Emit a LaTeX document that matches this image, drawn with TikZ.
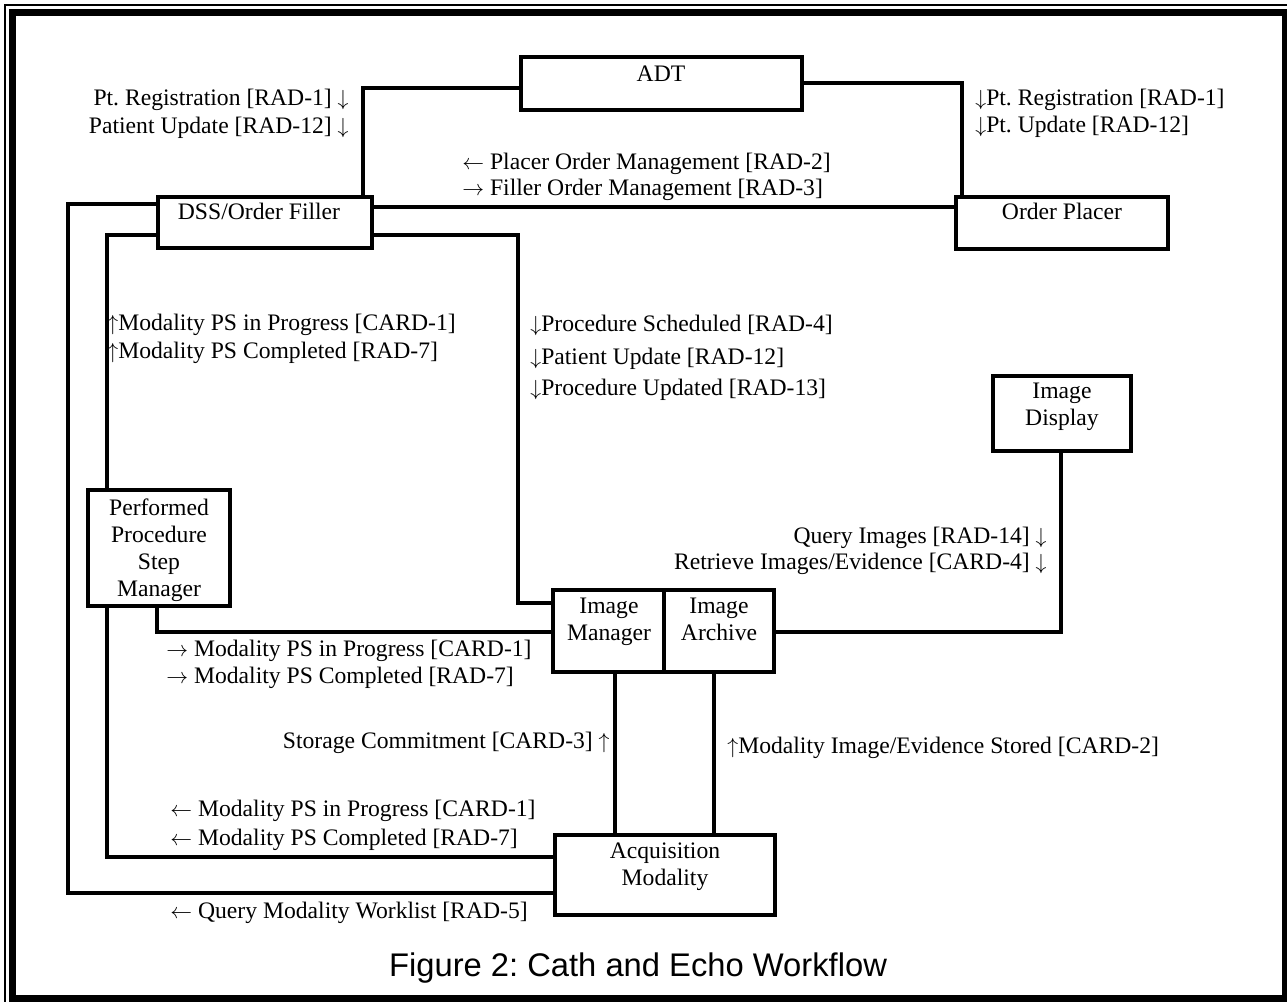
\documentclass[tikz,border=0pt]{standalone}
\usepackage{fontspec}
\setmainfont{Liberation Serif}
\newfontfamily\capfont{Liberation Sans}
\usetikzlibrary{fit}
\frenchspacing
\tikzset{
  x=0.55pt, y=-0.55pt,
  box/.style={draw, line width=2.2pt, inner sep=0pt, fill=none},
  conn/.style={line width=2.1pt},
  lbl/.style={inner sep=0pt, text height=9pt, text depth=2.7pt, font=\fontsize{13pt}{15pt}\selectfont},
  btxt/.style={inner sep=0pt, align=center, font=\fontsize{13pt}{14.9pt}\selectfont},
}
\begin{document}
\begin{tikzpicture}
\useasboundingbox (0,0) rectangle (1287,1001);
% frame
\draw[line width=1.1pt] (5,5) rectangle (1300,1010);
\draw[line width=3.8pt] (12.5,12.5) rectangle (1285,998.5);

% boxes
\node[box, fit={(521,57)(802,110)}] (adt) {};
\node[box, fit={(158,197)(372,248)}] (dss) {};
\node[box, fit={(956,197)(1168,249)}] (op) {};
\node[box, fit={(993,376)(1131,451)}] (idisp) {};
\node[box, fit={(88,490)(230,606)}] (ppsm) {};
\node[box, fit={(553,590)(664,672)}] (im) {};
\node[box, fit={(664,590)(774,672)}] (ia) {};
\node[box, fit={(555,835)(775,915)}] (acq) {};

% box texts
\node[lbl] (adtt) at (661,76) {ADT};
\node[lbl] (dsst) at (259,214) {DSS/Order Filler};
\node[lbl] (opt) at (1062,214) {Order Placer};
\node[btxt] (idispt) at (1062,407) {Image\\Display};
\node[btxt] (ppsmt) at (159,550) {Performed\\Procedure\\Step\\Manager};
\node[btxt] (imt) at (609,622) {Image\\Manager};
\node[btxt] (iat) at (719,622) {Image\\Archive\vphantom{g}};
\node[btxt] (acqt) at (665,867) {Acquisition\\Modality};

% connectors
\draw[conn] (adt.west |- 0,88) -| (363,0 |- dss.north);
\draw[conn] (adt.east |- 0,83) -| (962,0 |- op.north);
\draw[conn] (dss.east |- 0,207) -- (op.west |- 0,207);
\draw[conn] (dss.west |- 0,204) -| (68,893) -- (acq.west |- 0,893);
\draw[conn] (dss.west |- 0,235) -| (107,0 |- ppsm.north);
\draw[conn] (107,0 |- ppsm.south) |- (acq.west |- 0,857);
\draw[conn] (dss.east |- 0,235) -| (518,603) -- (im.west |- 0,603);
\draw[conn] (157,0 |- ppsm.south) |- (im.west |- 0,632);
\draw[conn] (ia.east |- 0,632) -| (1061,0 |- idisp.south);
\draw[conn] (615,0 |- im.south) -- (615,0 |- acq.north);
\draw[conn] (714,0 |- ia.south) -- (714,0 |- acq.north);

% labels
\node[lbl, anchor=east] (l1) at (349,100) {Pt. Registration [RAD-1] $\downarrow$};
\node[lbl, anchor=east] (l2) at (349,128) {Patient Update [RAD-12] $\downarrow$};
\node[lbl, anchor=west] (r1) at (975,100) {$\downarrow$Pt. Registration [RAD-1]};
\node[lbl, anchor=west] (r2) at (975,127) {$\downarrow$Pt. Update [RAD-12]};
\node[lbl, anchor=west] (m1) at (462,164) {$\leftarrow$ Placer Order Management [RAD-2]};
\node[lbl, anchor=west] (m2) at (462,190) {$\rightarrow$ Filler Order Management [RAD-3]};
\node[lbl, anchor=west] (a1) at (107,325) {$\uparrow$Modality PS in Progress [CARD-1]};
\node[lbl, anchor=west] (a2) at (107,353) {$\uparrow$Modality PS Completed [RAD-7]};
\node[lbl, anchor=west] (b1) at (530,326) {$\downarrow$Procedure Scheduled [RAD-4]};
\node[lbl, anchor=west] (b2) at (530,359) {$\downarrow$Patient Update [RAD-12]};
\node[lbl, anchor=west] (b3) at (530,390) {$\downarrow$Procedure Updated [RAD-13]};
\node[lbl, anchor=east] (q1) at (1047,538) {Query Images [RAD-14] $\downarrow$};
\node[lbl, anchor=east] (q2) at (1047,564) {Retrieve Images/Evidence [CARD-4] $\downarrow$};
\node[lbl, anchor=west] (c1) at (166,651) {$\rightarrow$ Modality PS in Progress [CARD-1]};
\node[lbl, anchor=west] (c2) at (166,678) {$\rightarrow$ Modality PS Completed [RAD-7]};
\node[lbl, anchor=east] (s1) at (610,743) {Storage Commitment [CARD-3] $\uparrow$};
\node[lbl, anchor=west] (s2) at (727,748) {$\uparrow$Modality Image/Evidence Stored [CARD-2]};
\node[lbl, anchor=west] (d1) at (170,811) {$\leftarrow$ Modality PS in Progress [CARD-1]};
\node[lbl, anchor=west] (d2) at (170,840) {$\leftarrow$ Modality PS Completed [RAD-7]};
\node[lbl, anchor=west] (e1) at (170,913) {$\leftarrow$ Query Modality Worklist [RAD-5]};

% caption
\node[inner sep=0pt, font=\capfont\fontsize{18pt}{21pt}\selectfont] (cap) at (638,968) {Figure 2: Cath and Echo Workflow};
\end{tikzpicture}
\end{document}
